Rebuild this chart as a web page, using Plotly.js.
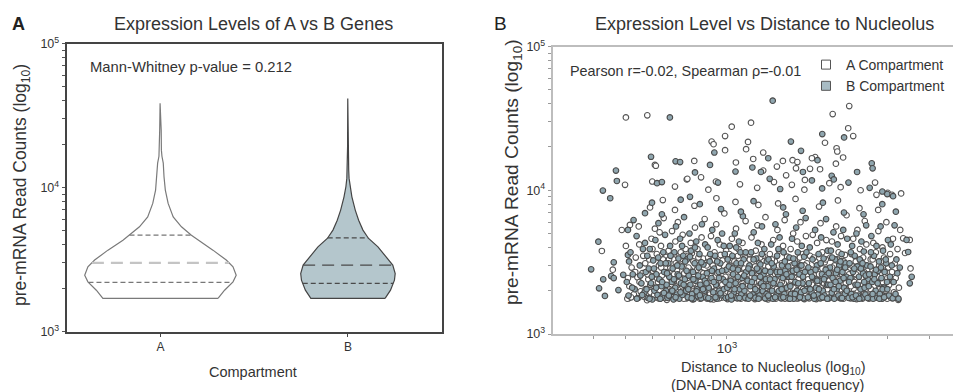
<!DOCTYPE html>
<html>
<head>
<meta charset="utf-8">
<script src="https://cdn.plot.ly/plotly-3.0.1.min.js"></script>
<style>html,body{margin:0;padding:0;background:#fff;}#chart{width:953px;height:392px;}</style>
</head>
<body>
<div id="chart"></div>
<script>
// ---------------- DATA ----------------
const compartments = ['A', 'B'];
const powerTickVals = [1000, 10000, 100000];
const powerTickLabels = ['10<sup>3</sup>', '10<sup>4</sup>', '10<sup>5</sup>'];
const xPowerTickVals = [1000];
const xPowerTickLabels = ['10<sup>3</sup>'];
const yMinorTicks = [2000,3000,4000,5000,6000,7000,8000,9000,20000,30000,40000,50000,60000,70000,80000,90000];
const xMinorTicks = [400,500,600,700,800,900,2000,3000,4000];

// Violin outline profiles (read counts and half-width in category units)
const violinA_reads = [1702,1941,2218,2466,2818,3141,3681,4315,4677,5346,6266,7762,9616,11885,14791,16500,18197,25060,38460];
const violinA_halfwidth = [0.307,0.342,0.387,0.404,0.387,0.351,0.280,0.200,0.165,0.112,0.068,0.041,0.026,0.019,0.015,0.008,0.005,0.004,0.002];
const violinB_reads = [1702,1941,2280,2535,2897,3304,3882,4436,5070,5943,6982,8630,10139,11588,13243,19187,41591];
const violinB_halfwidth = [0.198,0.227,0.248,0.252,0.239,0.204,0.160,0.110,0.080,0.057,0.039,0.021,0.011,0.006,0.004,0.002,0.001];

// Quartiles [Q1, median, Q3]
const quartilesA = [2198, 3006, 4677];
const quartilesB = [2163, 2897, 4478];

const pValueText = 'Mann-Whitney p-value = 0.212';
const corrText = 'Pearson r=-0.02, Spearman \u03c1=-0.01';

// Scatter: [distance to nucleolus, pre-mRNA read counts]
const pointsA = [
[2312,38500],[2064,33900],[500,32100],[579,33200],[1179,29500],[1033,27700],[2296,27000],[2376,23800],[987,23800],[900,21800],[912,20900],[1155,21700],[1958,21400],[2120,19600],[987,19000],[1282,18300],[1568,16200],[1830,17000],[2217,16900],[799,16000],[610,15000],[1197,16500],[1282,13700],[1408,14600],[1605,14200],[1767,14100],[2110,15300],[1706,11800],[497,10900],[759,11900],[927,11500],[1093,11000],[3010,9600],[614,14800],[837,12300],[599,11500],[762,12000],[1140,19300],[1063,15600],[1467,16000],[1620,15700],[1790,16700],[1893,14000],[2130,18600],[1500,12700],[2017,11200],[2760,11300],[1560,10900],[2180,10500],[3300,9500],[424,3780],[509,1770],[486,5290],[1230,10400],[1380,11400],[1700,10100],[2500,10000],[880,10100],[700,10600],[3100,9300],
[3347,4630],[3502,4510],[3520,2860],[3390,3660],[3236,1730],[3162,2570],[457,2800],[500,4100],[514,5740],[2787,9300],[644,8550],
[505,1760],[512,2150],[520,2900],[528,1890],[535,3400],[541,2480],[548,4200],[553,1980],[560,2650],[566,1820],[571,3100],[546,5600],
[578,1720],[583,2400],[587,3300],[592,1950],[596,4600],[601,2750],[605,2100],[610,5400],[614,1800],[618,3600],[623,2300],[627,3000],[632,1760],[636,4100],[640,2550],[644,1900],[648,6400],[652,2200],[656,3450],[659,1840],[590,7600],[630,5100],
[662,1730],[666,2600],[670,3800],[674,2050],[678,2900],[682,1850],[686,5200],[690,2350],[694,3300],[698,1760],[702,4400],[706,2150],[710,2750],[714,6000],[718,1900],[722,3550],[726,2450],[730,1780],[734,3050],[738,4900],[742,2050],[746,2650],[750,1820],[753,3900],[700,7300],
[757,1770],[762,2450],[766,3500],[771,1920],[775,2800],[780,4300],[785,2150],[789,1740],[794,3200],[798,2600],[803,5500],[808,1850],[812,2350],[817,3900],[821,1980],[826,3000],[831,1760],[835,2700],[840,4700],[845,2100],[849,3350],[854,1880],[858,6300],[863,2500],[800,7800],
[868,2300],[873,1760],[879,3400],[885,2700],[890,1900],[896,4800],[901,2150],[907,3000],[912,1740],[918,3700],[924,2500],[929,5800],[935,2050],[941,1830],[946,2900],[952,4200],[958,2350],[964,1790],[970,3250],[976,2600],[982,6900],[988,1950],[994,3800],[998,2150],[930,8800],
[1004,1750],[1010,2500],[1016,3600],[1022,1900],[1028,2800],[1034,4600],[1040,2200],[1046,1780],[1052,3200],[1058,2650],[1064,5400],[1070,2000],[1076,1830],[1082,3900],[1088,2400],[1094,3000],[1100,1760],[1106,2150],[1112,4300],[1118,2700],[1124,1900],[1130,3400],[1136,6100],[1144,2250],[1060,8300],
[1155,1780],[1162,2600],[1169,3300],[1176,2050],[1183,4700],[1190,1850],[1197,2900],[1204,2300],[1211,1750],[1218,3800],[1225,2550],[1232,5700],[1239,1950],[1246,3100],[1253,2200],[1260,1800],[1267,4200],[1274,2750],[1281,3500],[1288,1900],[1295,2400],[1302,6500],[1309,2100],[1316,2850],[1240,7900],
[1325,1740],[1333,2450],[1341,3600],[1349,2000],[1357,2850],[1365,1820],[1373,4500],[1381,2300],[1389,3200],[1397,1760],[1405,2650],[1413,5300],[1421,2100],[1429,3800],[1437,1900],[1445,2500],[1453,3100],[1461,1780],[1469,4100],[1477,2250],[1485,6200],[1493,2900],[1501,1950],[1510,3450],[1420,8100],
[1520,2050],[1529,1760],[1538,2900],[1547,3900],[1556,2350],[1565,1850],[1574,5000],[1583,2650],[1592,3300],[1601,1980],[1610,2200],[1619,4400],[1628,1770],[1637,3050],[1646,2500],[1655,6000],[1664,2100],[1673,1900],[1682,3600],[1691,2800],[1700,1750],[1709,2350],[1718,4800],[1730,3100],[1600,8700],
[1745,2400],[1756,1770],[1767,3500],[1778,2100],[1789,2800],[1800,4900],[1811,1860],[1822,2550],[1833,3200],[1844,1750],[1855,4300],[1866,2200],[1877,2950],[1888,1950],[1899,5900],[1910,2450],[1921,3700],[1932,1800],[1943,2650],[1954,3150],[1965,2050],[1976,4500],[1987,1760],[1996,2850],[1880,7700],
[2006,1760],[2018,2600],[2030,3400],[2042,2050],[2054,4400],[2066,2300],[2078,1850],[2090,3000],[2102,2750],[2114,5600],[2126,1950],[2138,2150],[2150,3700],[2162,1780],[2174,2500],[2186,4800],[2198,3200],[2210,2000],[2222,1760],[2234,2900],[2246,3550],[2258,2250],[2270,6700],[2285,1900],[2140,8500],
[2306,2050],[2320,2800],[2334,1770],[2348,3600],[2362,2350],[2376,4600],[2390,1900],[2404,2600],[2418,3200],[2432,1750],[2446,5300],[2460,2150],[2474,2900],[2488,3900],[2502,1850],[2516,2450],[2530,1760],[2544,3400],[2558,2700],[2572,6100],[2586,2050],[2600,4200],[2614,2300],[2630,1800],[2480,7500],
[2647,1760],[2663,2500],[2679,3300],[2695,1950],[2711,2800],[2727,4300],[2743,2150],[2759,1780],[2775,3700],[2791,2400],[2807,1850],[2823,5200],[2839,3000],[2855,2250],[2871,1770],[2887,2650],[2903,4000],[2919,2050],[2935,3400],[2951,1900],[2967,2550],[2983,6000],[2999,1760],[3020,2900],[2820,7300],
[3040,2200],[3060,3600],[3080,1780],[3100,2700],[3120,4600],[3140,1950],[3160,3100],[3180,2450],[3200,1800],[3220,3900],[3250,2100],[3280,5300],
[507,2450],[518,1800],[533,2700],[549,2300],[563,3500],[572,2050],
[580,2600],[591,2200],[600,3900],[607,1870],[619,2450],[626,1770],[637,2900],[645,3300],[653,1780],[657,2700],
[664,2100],[672,3300],[680,2450],[688,1800],[696,2600],[704,3100],[712,1950],[720,2300],[728,3700],[736,2150],[744,1760],[752,2900],
[759,2150],[768,2900],[777,1800],[786,3650],[795,2250],[804,1950],[813,2800],[822,3400],[832,2300],[841,1830],[850,2650],[860,3100],
[870,3000],[881,2050],[892,2600],[903,1800],[914,3300],[925,2000],[936,2650],[947,1770],[957,3550],[968,2200],[979,1850],[990,2500],
[1006,2100],[1018,3000],[1030,2450],[1042,1870],[1054,2900],[1066,2300],[1078,3500],[1090,1800],[1102,2600],[1114,1950],[1126,2850],[1138,1770],
[1157,2200],[1171,3600],[1185,2500],[1199,1780],[1213,2950],[1227,2100],[1241,2650],[1255,3400],[1269,1870],[1283,2300],[1297,3000],[1311,1760],
[1328,2950],[1344,2200],[1360,3300],[1376,1900],[1392,2600],[1408,2050],[1424,3000],[1440,1800],[1456,2300],[1472,2900],[1488,1760],[1504,2500],
[1523,2600],[1541,2200],[1559,3000],[1577,2100],[1595,2700],[1613,1770],[1631,2400],[1649,3400],[1667,2650],[1685,2050],[1703,3000],[1721,1850],
[1748,2000],[1770,2700],[1792,2200],[1814,3400],[1836,2400],[1858,1800],[1880,2600],[1902,2100],[1924,2850],[1946,2250],[1968,3300],[1990,2050],
[2010,2350],[2034,1800],[2058,2900],[2082,2200],[2106,1800],[2130,3300],[2154,2400],[2178,2050],[2202,2600],[2226,3200],[2250,1850],[2274,2700],
[2310,2600],[2338,2150],[2366,2950],[2394,2300],[2422,2600],[2450,1950],[2478,2300],[2506,3200],[2534,2200],[2562,1900],[2590,3000],[2618,2600],
[2651,2300],[2683,2050],[2715,3300],[2747,2650],[2779,1850],[2811,2500],[2843,2050],[2875,3200],[2907,2300],[2939,2750],[2971,2000],[3003,2450]
];

const pointsB = [
[1368,42000],[676,32100],[1922,24600],[2232,23300],[1550,21800],[1661,18800],[917,18300],[594,17100],[1327,16700],[1860,16200],[2698,15400],[703,15900],[725,15700],[890,15000],[1190,14400],[1683,13400],[2440,13400],[2714,14200],[2050,12600],[2080,11900],[467,13700],[470,11600],[619,11200],[640,11400],[940,11300],[427,9950],[449,8800],[3000,9400],[2900,9800],[803,13300],[1262,13400],[1060,13500],[1340,12000],[1790,11700],[2300,11300],[414,4390],[394,2820],[416,2080],[433,1840],[475,2020],[570,6930],[1440,10200],[2660,10400],[1920,10300],
[3426,4510],[3502,2250],[3548,2500],[3463,3720],[3127,2300],[3183,7100],[428,2400],[452,2530],[460,2450],[460,3150],[491,2580],[507,3550],[507,5300],[3123,9100],[776,9000],
[503,2300],[509,1850],[516,3700],[524,2600],[531,2050],[538,4800],[544,1780],[550,3000],[556,2250],[562,3900],[568,1950],[573,2700],[527,6200],
[576,2050],[581,1780],[585,2850],[589,3900],[594,2250],[599,1740],[603,3250],[608,2000],[612,4500],[616,2600],[621,1870],[625,5900],[629,2400],[634,3100],[638,2150],[642,1810],[646,3700],[650,2700],[654,4900],[658,2000],[598,8200],[640,6800],
[661,2200],[665,1790],[669,3100],[673,2500],[677,4100],[681,1950],[685,2300],[689,2850],[693,1740],[697,3700],[701,2100],[705,5600],[709,1880],[713,2600],[717,3350],[721,1760],[725,4600],[729,2250],[733,2950],[737,1870],[741,3500],[745,6500],[749,2400],[754,2000],[728,8600],
[756,2000],[760,3300],[764,1800],[769,2550],[773,5000],[778,2200],[782,3800],[787,1900],[792,2700],[796,1750],[801,3100],[805,2350],[810,4400],[815,2050],[819,1830],[824,2900],[828,3600],[833,2200],[838,1770],[842,5800],[847,2500],[851,3050],[856,2000],[861,4200],[830,8000],
[866,1800],[871,2650],[876,4000],[882,2100],[888,3200],[893,1750],[899,2450],[904,5300],[910,1950],[915,2850],[921,3500],[927,2200],[932,1760],[938,4500],[944,2700],[949,2000],[955,3100],[961,1860],[967,5000],[973,2400],[979,2050],[985,3600],[991,1780],[996,2800],[960,7400],
[1002,2100],[1008,1800],[1013,2950],[1019,4100],[1025,2350],[1031,1740],[1037,3500],[1043,2600],[1049,1950],[1055,5000],[1061,2250],[1067,3100],[1073,1770],[1079,2800],[1085,4400],[1091,2050],[1097,3700],[1103,1880],[1109,2450],[1115,6600],[1121,3300],[1127,2000],[1133,1790],[1140,2700],[1100,7100],
[1152,2350],[1159,1760],[1166,3000],[1173,2150],[1180,3700],[1187,2650],[1194,1880],[1201,5100],[1208,2450],[1215,1790],[1222,3350],[1229,2000],[1236,4300],[1243,2750],[1250,1850],[1257,3050],[1264,2250],[1271,5600],[1278,1990],[1285,2600],[1292,3900],[1299,1770],[1306,2400],[1314,3200],[1200,8400],
[1322,2150],[1330,3300],[1338,1790],[1346,2700],[1354,4200],[1362,2000],[1370,1760],[1378,2950],[1386,2400],[1394,5800],[1402,1850],[1410,3500],[1418,2600],[1426,1990],[1434,4700],[1442,2200],[1450,1770],[1458,3000],[1466,2450],[1474,3700],[1482,1900],[1490,2750],[1498,6800],[1507,2100],[1470,7600],
[1517,1780],[1526,2500],[1535,3400],[1544,2150],[1553,1900],[1562,4600],[1571,2750],[1580,1760],[1589,3100],[1598,2300],[1607,5500],[1616,2000],[1625,3700],[1634,1840],[1643,2600],[1652,3000],[1661,1950],[1670,4100],[1679,2250],[1688,1770],[1697,3450],[1706,2700],[1715,6400],[1727,2050],[1680,7200],
[1742,1800],[1753,2250],[1764,4000],[1775,2700],[1786,1950],[1797,3300],[1808,2450],[1819,1760],[1830,5300],[1841,2100],[1852,3000],[1863,1880],[1874,3600],[1885,2350],[1896,1770],[1907,4700],[1918,2600],[1929,2000],[1940,3350],[1951,1850],[1962,2500],[1973,6300],[1984,2200],[1994,3800],[1930,8200],
[2003,2200],[2015,1790],[2027,2900],[2039,3800],[2051,1940],[2063,2450],[2075,5100],[2087,1760],[2099,3300],[2111,2650],[2123,2050],[2135,4200],[2147,1850],[2159,3000],[2171,2350],[2183,1770],[2195,3600],[2207,2700],[2219,5300],[2231,2100],[2243,1900],[2255,3100],[2267,2500],[2280,4600],[2230,7000],
[2303,1780],[2317,3100],[2331,2450],[2345,1900],[2359,4100],[2373,2700],[2387,1760],[2401,3500],[2415,2200],[2429,5000],[2443,2950],[2457,1850],[2471,2500],[2485,3300],[2499,2050],[2513,4400],[2527,1790],[2541,2650],[2555,3750],[2569,2100],[2583,1880],[2597,5700],[2611,3000],[2626,2400],[2550,6800],
[2643,2150],[2659,1800],[2675,2950],[2691,4800],[2707,2300],[2723,1760],[2739,3500],[2755,2600],[2771,2000],[2787,4100],[2803,1790],[2819,2750],[2835,3200],[2851,1900],[2867,5600],[2883,2450],[2899,1760],[2915,3800],[2931,2100],[2947,2700],[2963,1840],[2979,3100],[2995,2300],[3015,4500],[2900,8000],
[3035,1850],[3055,2500],[3075,4200],[3095,3000],[3115,1770],[3135,2300],[3155,5700],[3175,1900],[3195,3300],[3215,2650],[3240,1760],[3270,2900],
[511,3200],[522,2100],[539,1760],[552,2550],[559,1870],[570,4300],
[579,3500],[588,1760],[597,2500],[606,2850],[615,2100],[624,3400],[633,1760],[641,2300],[649,1930],[657,3100],
[663,2650],[671,1850],[679,3500],[687,2000],[695,2400],[703,1800],[711,3000],[719,2550],[727,1950],[735,4100],[743,2200],[751,3200],
[758,2750],[767,2050],[776,3450],[785,1770],[794,2400],[803,4000],[812,1980],[821,2550],[830,1860],[839,3150],[848,2050],[859,2350],
[869,2250],[880,1780],[891,3600],[902,2750],[913,2300],[924,1800],[935,3200],[946,2450],[956,1920],[967,2750],[978,4100],[989,2300],
[1005,3300],[1017,2200],[1029,1850],[1041,2850],[1053,2050],[1065,4000],[1077,2500],[1089,1780],[1101,3100],[1113,2150],[1125,2550],[1137,3700],
[1158,2850],[1172,1850],[1186,2300],[1200,3300],[1214,2050],[1228,2850],[1242,1760],[1256,2500],[1270,3600],[1284,2150],[1298,2750],[1312,1900],
[1327,1850],[1343,2400],[1359,3100],[1375,2250],[1391,1800],[1407,2700],[1423,3900],[1439,2700],[1455,2050],[1471,1800],[1487,3200],[1503,2600],
[1522,2950],[1540,1760],[1558,2500],[1576,3350],[1594,1900],[1612,2800],[1630,2250],[1648,1800],[1666,3000],[1684,2500],[1702,2000],[1724,3700],
[1747,2900],[1769,2050],[1791,2500],[1813,1850],[1835,2800],[1857,2350],[1879,2050],[1901,3100],[1923,1800],[1945,2400],[1967,2800],[1989,1760],
[2009,2650],[2033,2200],[2057,3400],[2081,2050],[2105,2300],[2129,2800],[2153,2150],[2177,3200],[2201,1780],[2225,2450],[2249,2900],[2273,2000],
[2309,2300],[2337,3700],[2365,1800],[2393,2850],[2421,1850],[2449,2200],[2477,1760],[2505,2850],[2533,3100],[2561,2300],[2589,2550],[2622,1780],
[2650,2600],[2682,3700],[2714,1900],[2746,2400],[2778,2800],[2810,2250],[2842,1760],[2874,2900],[2906,2050],[2938,1800],[2970,3300],[3002,2050]
];

// ---------------- HELPERS ----------------
const W = 953, H = 392;
const FONT = 'Liberation Sans, Arial, Helvetica, sans-serif';
const px = x => x / W;
const py = y => 1 - y / H;

function outline(center, reads, hw) {
  const xs = [], ys = [];
  for (let i = 0; i < reads.length; i++) { xs.push(center + hw[i]); ys.push(reads[i]); }
  for (let i = reads.length - 1; i >= 0; i--) { xs.push(center - hw[i]); ys.push(reads[i]); }
  xs.push(xs[0]); ys.push(ys[0]);
  return {xs, ys};
}
function widthAt(v, reads, hw) {
  const lv = Math.log10(v);
  for (let i = 0; i < reads.length - 1; i++) {
    const a = Math.log10(reads[i]), b = Math.log10(reads[i + 1]);
    if (lv >= a && lv <= b) { const t = (lv - a) / (b - a); return hw[i] + t * (hw[i + 1] - hw[i]); }
  }
  return hw[0];
}

const oA = outline(0, violinA_reads, violinA_halfwidth);
const oB = outline(1, violinB_reads, violinB_halfwidth);

const traces = [];
traces.push({x: oA.xs, y: oA.ys, xaxis: 'x', yaxis: 'y', type: 'scatter', mode: 'lines', fill: 'toself',
  fillcolor: '#ffffff', line: {color: '#7a7a7a', width: 1.2}, showlegend: false, hoverinfo: 'skip'});
traces.push({x: oB.xs, y: oB.ys, xaxis: 'x', yaxis: 'y', type: 'scatter', mode: 'lines', fill: 'toself',
  fillcolor: '#b4c6cc', line: {color: '#454545', width: 1.2}, showlegend: false, hoverinfo: 'skip'});

function qLine(center, q, reads, hw, color, width, dash) {
  const w = widthAt(q, reads, hw);
  return {x: [center - w, center + w], y: [q, q], xaxis: 'x', yaxis: 'y', type: 'scatter', mode: 'lines',
    line: {color: color, width: width, dash: dash}, showlegend: false, hoverinfo: 'skip'};
}
traces.push(qLine(0, quartilesA[0], violinA_reads, violinA_halfwidth, '#777777', 1.2, '5px,3px'));
traces.push(qLine(0, quartilesA[1], violinA_reads, violinA_halfwidth, '#c4c4c4', 2.2, '12px,7px'));
traces.push(qLine(0, quartilesA[2], violinA_reads, violinA_halfwidth, '#777777', 1.2, '5px,3px'));
traces.push(qLine(1, quartilesB[0], violinB_reads, violinB_halfwidth, '#4a4a4a', 1.2, '5px,3px'));
traces.push(qLine(1, quartilesB[1], violinB_reads, violinB_halfwidth, '#4a4a4a', 1.3, '12px,7px'));
traces.push(qLine(1, quartilesB[2], violinB_reads, violinB_halfwidth, '#4a4a4a', 1.2, '5px,3px'));

traces.push({x: pointsA.map(p => p[0]), y: pointsA.map(p => p[1]), xaxis: 'x2', yaxis: 'y2', type: 'scatter', mode: 'markers',
  marker: {size: 5.6, color: '#ffffff', line: {color: '#555555', width: 1.1}}, showlegend: false, hoverinfo: 'skip'});
traces.push({x: pointsB.map(p => p[0]), y: pointsB.map(p => p[1]), xaxis: 'x2', yaxis: 'y2', type: 'scatter', mode: 'markers',
  marker: {size: 5.6, color: '#8fa6af', line: {color: '#4a4a4a', width: 1.1}}, showlegend: false, hoverinfo: 'skip'});

// legend entries
traces.push({x: [null], y: [null], xaxis: 'x2', yaxis: 'y2', type: 'scatter', mode: 'markers', name: 'A Compartment',
  marker: {symbol: 'square', size: 9, color: '#ffffff', line: {color: '#555', width: 1}}});
traces.push({x: [null], y: [null], xaxis: 'x2', yaxis: 'y2', type: 'scatter', mode: 'markers', name: 'B Compartment',
  marker: {symbol: 'square', size: 9, color: '#a8bcc4', line: {color: '#555', width: 1}}});

const ann = (x, y, text, size, opts) => Object.assign({xref: 'paper', yref: 'paper', x: px(x), y: py(y), text: text,
  showarrow: false, xanchor: 'center', yanchor: 'middle', font: {family: FONT, size: size, color: '#333'}}, opts || {});

const logAxisBase = (lineColor, tickColor, majorVals, majorText, minorVals, fontSize) => ({
  type: 'log', tickmode: 'array', tickvals: majorVals, ticktext: majorText,
  showline: true, linecolor: lineColor, linewidth: 2, ticks: 'outside', ticklen: 3, tickwidth: 1, tickcolor: tickColor,
  minor: {tickmode: 'array', tickvals: minorVals, ticks: 'outside', ticklen: 3, tickwidth: 1, tickcolor: tickColor, showgrid: false},
  tickfont: {family: FONT, size: fontSize, color: '#333333'}, showgrid: false, zeroline: false, fixedrange: true
});

const layout = {
  width: W, height: H, margin: {l: 0, r: 0, t: 0, b: 0},
  paper_bgcolor: '#ffffff', plot_bgcolor: '#ffffff',
  font: {family: FONT, color: '#333'},
  showlegend: true,
  legend: {x: px(806), y: py(49), xanchor: 'left', yanchor: 'top', bgcolor: 'rgba(0,0,0,0)',
    font: {family: FONT, size: 14, color: '#333'}, itemwidth: 30, tracegroupgap: 0},
  xaxis: {domain: [px(66.7), px(441.7)], anchor: 'y', range: [-0.5, 1.5], tickmode: 'array', tickvals: [0, 1], ticktext: compartments,
    showline: true, linecolor: '#444', linewidth: 2, mirror: true, ticks: 'outside', ticklen: 3, tickcolor: '#444',
    tickfont: {family: FONT, size: 12, color: '#333'}, showgrid: false, zeroline: false, fixedrange: true},
  yaxis: Object.assign(logAxisBase('#444', '#555', powerTickVals, powerTickLabels, yMinorTicks, 12.5),
    {domain: [py(331.7), py(43.5)], anchor: 'x', range: [3, 5], mirror: true}),
  xaxis2: Object.assign(logAxisBase('#bdbdbd', '#999', xPowerTickVals, xPowerTickLabels, xMinorTicks, 13.5),
    {domain: [px(552.7), 1], anchor: 'y2', range: [2.481, 3.673], mirror: true, ticklabelstandoff: -2}),
  yaxis2: Object.assign(logAxisBase('#bdbdbd', '#999', powerTickVals, powerTickLabels, yMinorTicks, 12.5),
    {domain: [py(334), py(46.5)], anchor: 'x2', range: [3, 5]}),
  annotations: [
    ann(18, 24, '<b>A</b>', 18, {font: {family: FONT, size: 18, color: '#222'}}),
    ann(253, 24, 'Expression Levels of A vs B Genes', 18),
    ann(500, 24, 'B', 18, {font: {family: FONT, size: 19, color: '#222'}}),
    ann(764, 24, 'Expression Level vs Distance to Nucleolus', 18),
    ann(88, 67, pValueText, 14.8, {xanchor: 'left'}),
    ann(568, 71, corrText, 14.4, {xanchor: 'left'}),
    ann(22, 185, 'pre-mRNA Read Counts (log<sub>10</sub>)', 17.5, {textangle: -90}),
    ann(513, 172, 'pre-mRNA Read Counts (log<sub>10</sub>)', 19.2, {textangle: -90}),
    ann(253, 372, 'Compartment', 14.5),
    ann(773, 368, 'Distance to Nucleolus (log<sub>10</sub>)', 14.5),
    ann(767.5, 385, '(DNA-DNA contact frequency)', 14.5)
  ]
};

Plotly.newPlot('chart', traces, layout, {displayModeBar: false, staticPlot: true});
</script>
</body>
</html>
